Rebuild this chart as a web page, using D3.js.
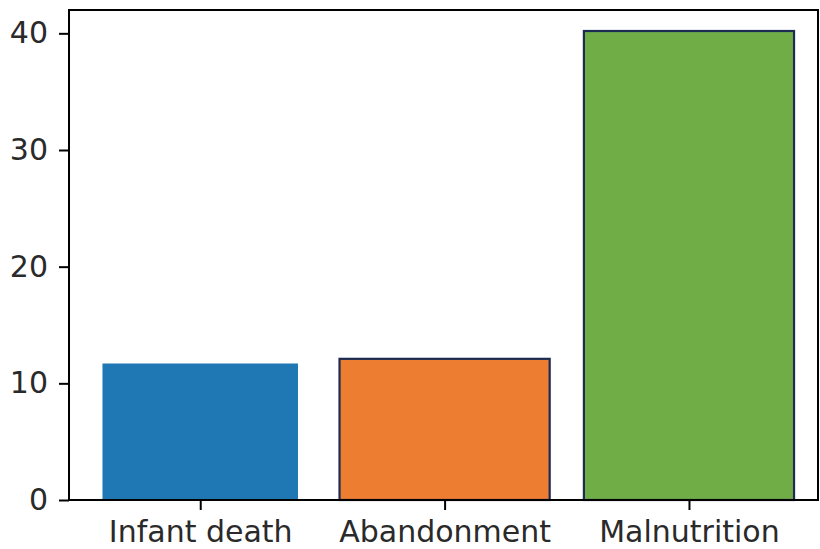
<!DOCTYPE html>
<html>
<head>
<meta charset="utf-8">
<script src="https://cdn.jsdelivr.net/npm/d3@7/dist/d3.min.js"></script>
<style>
  html, body { margin: 0; padding: 0; background: #fff; }
  svg { display: block; }
  text { font-family: "DejaVu Sans", sans-serif; }
</style>
</head>
<body>
<svg id="chart" width="820" height="549"></svg>
<script>
// Categories and their values
const categories = ["Infant death", "Abandonment", "Malnutrition"];
const values = [11.7, 12.1, 40.2];
const yTicks = [0, 10, 20, 30, 40];

// Fill and edge per bar (first bar has no outline)
const fills = ["#1f77b4", "#ed7d31", "#70ad47"];
const edges = [null, "#1c2b52", "#1c2b52"];

const W = 820, H = 549;
const margin = { left: 69, right: 2, top: 10, bottom: 49 };
const plotW = W - margin.left - margin.right;
const plotH = H - margin.top - margin.bottom;

const svg = d3.select("#chart");
const g = svg.append("g").attr("transform", `translate(${margin.left},${margin.top})`);

// Bars sit at integer positions, 0.8 wide, with margins on the x range
const x = d3.scaleLinear().domain([-0.537, categories.length - 1 + 0.528]).range([0, plotW]);
const y = d3.scaleLinear().domain([0, 42]).range([plotH, 0]);

const barHalf = 0.4;
const edgeExtra = 0.03;

g.selectAll("rect.bar")
  .data(values.map((v, i) => ({ v, i })))
  .join("rect")
  .attr("class", "bar")
  .attr("x", d => x(d.i - barHalf - (edges[d.i] ? edgeExtra : 0)))
  .attr("width", d => x(d.i + barHalf + (edges[d.i] ? edgeExtra : 0)) - x(d.i - barHalf - (edges[d.i] ? edgeExtra : 0)))
  .attr("y", d => y(d.v))
  .attr("height", d => y(0) - y(d.v))
  .attr("fill", d => fills[d.i])
  .attr("stroke", d => edges[d.i] || "none")
  .attr("stroke-width", 2.2);

// Frame
g.append("rect")
  .attr("x", 0).attr("y", 0)
  .attr("width", plotW).attr("height", plotH)
  .attr("fill", "none")
  .attr("stroke", "#000")
  .attr("stroke-width", 2);

// Axes
const xAxis = d3.axisBottom(x)
  .tickValues(categories.map((_, i) => i))
  .tickFormat(i => categories[i])
  .tickSize(10)
  .tickPadding(11);
const yAxis = d3.axisLeft(y)
  .tickValues(yTicks)
  .tickFormat(d3.format("d"))
  .tickSize(10)
  .tickPadding(11);

const gx = g.append("g").attr("transform", `translate(0,${plotH})`).call(xAxis);
const gy = g.append("g").call(yAxis);

[gx, gy].forEach(a => {
  a.select(".domain").remove();
  a.selectAll(".tick line").attr("stroke", "#000").attr("stroke-width", 2);
  a.selectAll(".tick text")
    .attr("fill", "#2a2a2a")
    .style("font-size", "30px")
    .style("font-family", "'DejaVu Sans', sans-serif");
});
</script>
</body>
</html>
